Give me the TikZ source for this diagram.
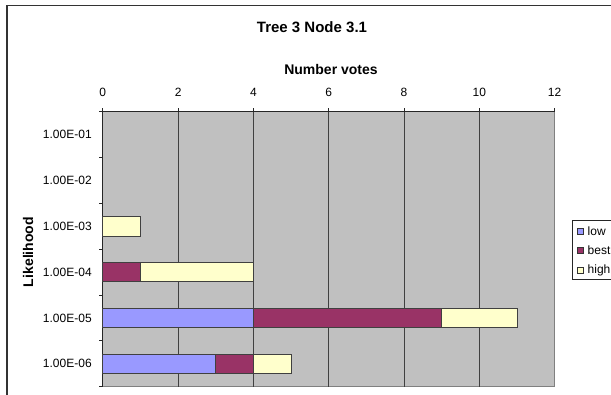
\documentclass[tikz,border=0pt]{standalone}
\usepackage{fontspec}
\setmainfont{Liberation Sans}

\definecolor{plotgray}{HTML}{C0C0C0}
\definecolor{lowblue}{HTML}{9999FF}
\definecolor{bestred}{HTML}{993366}
\definecolor{highyellow}{HTML}{FFFFCC}

\tikzset{
  bar/.style={draw=black!75, line width=0.8pt},
  grid line/.style={draw=black!75, line width=0.9pt},
  tick lab/.style={inner sep=0pt, font=\fontsize{12}{14}\selectfont},
  axis title/.style={inner sep=0pt, font=\fontsize{14}{16}\selectfont\bfseries},
  legend mark/.style={draw=black!80, line width=0.7pt},
}

\begin{document}
\begin{tikzpicture}[x=1pt, y=-1pt]

        \useasboundingbox (0,0) rectangle (611,394);
        \clip (0,0) rectangle (611,394);

        %Chart frame
        \draw [line width=1.2pt, black!80] (7,400) -- (7,5.5) -- (620,5.5);

        %Titles
        \node [axis title, font=\fontsize{15}{18}\selectfont\bfseries] (title) at (312,27) {Tree 3 Node 3.1};
        \node [axis title] (xtitle) at (331,69.5) {Number votes};
        \node [axis title, rotate=90] (ytitle) at (28,252) {Likelihood};

        %Plot area, one unit = one vote across, one likelihood class down
        \begin{scope}[shift={(102.8,111.7)}, x=37.65pt, y=-45.83pt]
          \fill [plotgray] (0,0) rectangle (12,6);
          \draw [black!50, line width=1pt] (12,0) -- (12,6) -- (0,6);

          %Grid
          \draw [grid line] (2,0)  -- (2,6);
          \draw [grid line] (4,0)  -- (4,6);
          \draw [grid line] (6,0)  -- (6,6);
          \draw [grid line] (8,0)  -- (8,6);
          \draw [grid line] (10,0) -- (10,6);

          %Value axis (top)
          \draw [black!85, line width=0.9pt] (0,0) -- (12,0);
          \foreach \v in {0,2,...,12}
            \draw [black!85, line width=0.9pt] (\v,0) -- (\v,-0.09);
          \node [tick lab] (x0)  at (0,-0.43)  {0};
          \node [tick lab] (x2)  at (2,-0.43)  {2};
          \node [tick lab] (x4)  at (4,-0.43)  {4};
          \node [tick lab] (x6)  at (6,-0.43)  {6};
          \node [tick lab] (x8)  at (8,-0.43)  {8};
          \node [tick lab] (x10) at (10,-0.43) {10};
          \node [tick lab] (x12) at (12,-0.43) {12};

          %Category axis (left)
          \draw [black!85, line width=0.9pt] (0,0) -- (0,6);
          \foreach \k in {0,...,6}
            \draw [black!85, line width=0.9pt] (0,\k) -- (-0.106,\k);
          \node [tick lab, anchor=east] (y1) at (-0.29,0.5) {1.00E-01};
          \node [tick lab, anchor=east] (y2) at (-0.29,1.5) {1.00E-02};
          \node [tick lab, anchor=east] (y3) at (-0.29,2.5) {1.00E-03};
          \node [tick lab, anchor=east] (y4) at (-0.29,3.5) {1.00E-04};
          \node [tick lab, anchor=east] (y5) at (-0.29,4.5) {1.00E-05};
          \node [tick lab, anchor=east] (y6) at (-0.29,5.5) {1.00E-06};

          %Bars 1.00E-03
          \draw [bar, fill=highyellow] (0,2.29) rectangle (1,2.71);
          %Bars 1.00E-04
          \draw [bar, fill=bestred]    (0,3.29) rectangle (1,3.71);
          \draw [bar, fill=highyellow] (1,3.29) rectangle (4,3.71);
          %Bars 1.00E-05
          \draw [bar, fill=lowblue]    (0,4.29) rectangle (4,4.71);
          \draw [bar, fill=bestred]    (4,4.29) rectangle (9,4.71);
          \draw [bar, fill=highyellow] (9,4.29) rectangle (11,4.71);
          %Bars 1.00E-06
          \draw [bar, fill=lowblue]    (0,5.29) rectangle (3,5.71);
          \draw [bar, fill=bestred]    (3,5.29) rectangle (4,5.71);
          \draw [bar, fill=highyellow] (4,5.29) rectangle (5,5.71);
        \end{scope}

        %Legend
        \draw [draw=black!85, fill=white, line width=0.9pt] (572.7,220) rectangle (640,279.5);
        \draw [legend mark, fill=lowblue]    (577,228)   rectangle (583,234);
        \draw [legend mark, fill=bestred]    (577,247.5) rectangle (583,253.5);
        \draw [legend mark, fill=highyellow] (577,267)   rectangle (583,273);
        \node [tick lab, anchor=west] (leglow)  at (587.5,231)   {low};
        \node [tick lab, anchor=west] (legbest) at (587.5,250.5) {best};
        \node [tick lab, anchor=west] (leghigh) at (587.5,270)   {high};

\end{tikzpicture}
\end{document}
